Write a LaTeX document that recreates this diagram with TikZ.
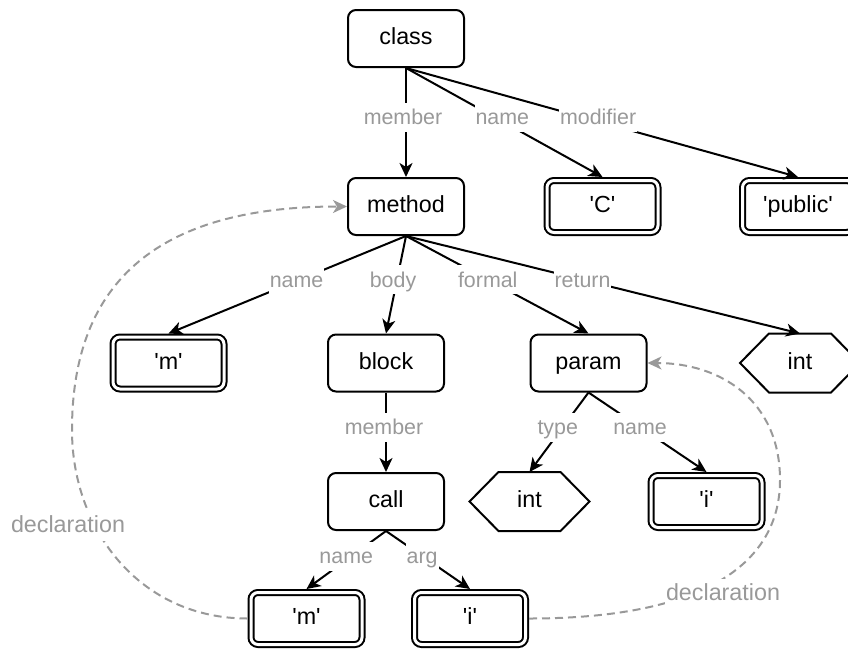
\documentclass[tikz,border=0pt]{standalone}
\usepackage{fontspec}
\setmainfont{Liberation Sans}
\usetikzlibrary{arrows.meta}
\definecolor{edgegray}{HTML}{999999}
\newcommand\diagboxfont{\fontsize{23.3pt}{28pt}\selectfont}
\newcommand\diaglblfont{\fontsize{21.4pt}{26pt}\selectfont}
\newcommand\q[1]{\textquotesingle#1\textquotesingle}
\begin{document}
\begin{tikzpicture}[x=1pt,y=-1pt,
  box/.style={draw, line width=2pt, rounded corners=8pt, fill=white,
    minimum width=116pt, minimum height=57pt, inner sep=0pt, outer sep=1pt,
    font=\diagboxfont, text height=17pt, text depth=5pt},
  lit/.style={draw, line width=2pt, double, double distance=3pt,
    rounded corners=7pt, minimum width=111pt, minimum height=52pt,
    inner sep=0pt, outer sep=3.5pt,
    font=\diagboxfont, text height=17pt, text depth=5pt},
  hexa/.style={minimum width=118pt, minimum height=57pt, inner sep=0pt,
    outer sep=1pt, font=\diagboxfont, text height=17pt, text depth=5pt},
  hexline/.style={draw, line width=2pt, line join=miter},
  edge/.style={line width=2pt, -{Stealth[length=14pt,width=13pt,inset=4pt]}},
  declref/.style={draw=edgegray, line width=2pt, dash pattern=on 8pt off 5pt,
    -{Stealth[length=14pt,width=13pt,inset=4pt,fill=edgegray]}},
  lbl/.style={fill=white, text=edgegray, font=\diaglblfont,
    inner xsep=1pt, inner ysep=4pt, text height=18pt, text depth=3pt},
  decllbl/.style={fill=white, text=edgegray, font=\diagboxfont,
    inner xsep=1pt, inner ysep=4pt, text height=17pt, text depth=5pt}]
\useasboundingbox (0,0) rectangle (848,648);

% nodes
\node[box] (class)  at (406,38.5)  {class};
\node[box] (method) at (406,206.5) {method};
\node[lit] (C)      at (602.5,206.5) {\q{C}};
\node[lit] (public) at (798,206.5) {\q{public}};
\node[lit] (m1)     at (168.5,363) {\q{m}};
\node[box] (block)  at (386,363)   {block};
\node[box] (param)  at (588.5,363) {param};
\node[hexa] (int1)  at (800,363)   {int};
\node[box] (call)   at (386,501.5) {call};
\node[hexa] (int2)  at (529.5,501.5) {int};
\node[lit] (i1)     at (706.5,501.5) {\q{i}};
\node[lit] (m2)     at (306.5,618.5) {\q{m}};
\node[lit] (i2)     at (470,618.5) {\q{i}};

% hexagon outlines for the type nodes
\foreach \h in {int1,int2}{
  \draw[hexline] (\h.west) -- ([xshift=29pt]\h.north west)
    -- ([xshift=-29pt]\h.north east) -- (\h.east)
    -- ([xshift=-29pt]\h.south east) -- ([xshift=29pt]\h.south west) -- cycle;
}

% tree edges
\draw[edge] (class.south) -- node[lbl,pos=0.49,yshift=4pt,xshift=-3pt] {member} (method.north);
\draw[edge] (class.south) -- node[lbl,pos=0.49,yshift=4pt] {name} (C.north);
\draw[edge] (class.south) -- node[lbl,pos=0.49,yshift=4pt] {modifier} (public.north);

\draw[edge] (method.south) -- node[lbl,pos=0.448,xshift=-3pt] {name} (m1.north);
\draw[edge] (method.south) -- node[lbl,pos=0.448,xshift=-4pt] {body} (block.north);
\draw[edge] (method.south) -- node[lbl,pos=0.448] {formal} (param.north);
\draw[edge] (method.south) -- node[lbl,pos=0.448] {return} (int1.north);

\draw[edge] (block.south) -- node[lbl,pos=0.437,xshift=-2pt] {member} (call.north);
\draw[edge] (param.south) -- node[lbl,pos=0.437,xshift=-5pt] {type} (int2.north);
\draw[edge] (param.south) -- node[lbl,pos=0.437] {name} (i1.north);

\draw[edge] (call.south) -- node[lbl,pos=0.5,yshift=4pt] {name} (m2.north);
\draw[edge] (call.south) -- node[lbl,pos=0.43] {arg} (i2.north);

% declaration references
\draw[declref] (m2.west) .. controls (140,618.5) and (72,530) .. (72,430)
  .. controls (72,280) and (160,206.5) .. (method.west);
\node[decllbl] (decl1) at (68,526) {declaration};

\draw[declref] (i2.east) .. controls (710,618.5) and (780,560) .. (780,480)
  .. controls (780,400) and (720,363) .. (param.east);
\node[decllbl] (decl2) at (723,594) {declaration};
\end{tikzpicture}
\end{document}
